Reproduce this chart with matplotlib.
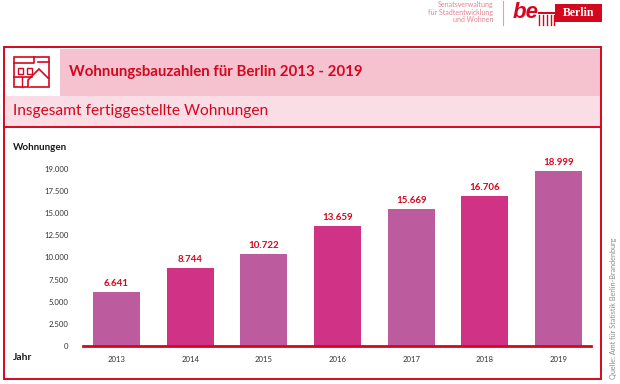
import matplotlib
matplotlib.use('Agg')
import matplotlib.pyplot as plt
from matplotlib.patches import Rectangle, Polygon

# Werte aus dem Bild
jahre = ['2013', '2014', '2015', '2016', '2017', '2018', '2019']
balken = [6100, 8800, 10450, 13600, 15450, 17000, 19750]
beschriftung = ['6.641', '8.744', '10.722', '13.659', '15.669', '16.706', '18.999']
farben = ['#bc5c9e', '#d03386', '#bc5c9e', '#d03386', '#bc5c9e', '#d03386', '#bc5c9e']
ticks = [0, 2500, 5000, 7500, 10000, 12500, 15000, 17500, 20000]
tick_labels = ['0', '2.500', '5.000', '7.500', '10.000', '12.500', '15.000', '17.500', '19.000']

ROT = '#d5071e'
W, H = 620, 384
plt.rcParams['font.family'] = ['Lato', 'DejaVu Sans']

fig = plt.figure(figsize=(W / 100, H / 100), dpi=100)

# Hintergrund-Achse in Pixelkoordinaten
bg = fig.add_axes([0, 0, 1, 1])
bg.set_xlim(0, W)
bg.set_ylim(H, 0)
bg.axis('off')

# Rahmen und Kopfbereich
bg.add_patch(Rectangle((60, 49), 540, 47, fc='#f5c3cf', ec='none'))
bg.add_patch(Rectangle((6, 96), 594, 30, fc='#fadde5', ec='none'))
bg.add_patch(Rectangle((4, 47), 597, 332, fc='none', ec=ROT, lw=1.4))
bg.plot([4, 601], [127, 127], color=ROT, lw=1.4)

bg.text(69, 72, 'Wohnungsbauzahlen für Berlin 2013 - 2019', color=ROT, fontsize=10.8,
        fontweight='bold', va='center', ha='left')
bg.text(13, 111, 'Insgesamt fertiggestellte Wohnungen', color=ROT, fontsize=11.2,
        va='center', ha='left')

# Icon
bg.add_patch(Rectangle((14, 57), 35, 30, fc='none', ec=ROT, lw=1.2))
bg.plot([14, 34, 34], [63, 63, 57], color=ROT, lw=1.2)
bg.plot([38, 49], [62, 62], color=ROT, lw=1.2)
bg.plot([14, 32], [77, 77], color=ROT, lw=1.2)
bg.add_patch(Polygon([[28, 87], [28, 80], [39, 69], [49, 79]], closed=False, fc='white', ec=ROT, lw=1.2))
bg.add_patch(Rectangle((18, 68), 5, 6, fc='none', ec=ROT, lw=1.0))
bg.add_patch(Rectangle((27, 68), 5, 6, fc='none', ec=ROT, lw=1.0))
bg.plot([22, 22], [77, 87], color=ROT, lw=1.0)

# Logo-Bereich oben rechts
bg.text(493.5, 1, 'Senatsverwaltung\nfür Stadtentwicklung\nund Wohnen', color='#e8808f', fontsize=5.0,
        ha='right', va='top', linespacing=1.1)
bg.plot([503, 503], [1, 25], color='#ee9aa6', lw=0.8)
bg.text(512.5, 13, 'be', color=ROT, fontsize=16, fontweight='bold', style='italic',
        family='Liberation Sans', va='center', ha='left')
bg.add_patch(Rectangle((555, 4), 47, 18, fc=ROT, ec='none'))
bg.text(578.5, 13.5, 'Berlin', color='white', fontsize=8.5, fontweight='bold',
        family='Liberation Serif', va='center', ha='center')
bg.add_patch(Rectangle((538, 12), 17, 2, fc=ROT, ec='none'))
for sx in [539, 543, 547, 551, 554]:
    bg.plot([sx, sx], [15, 25], color=ROT, lw=1.0)

# Achsentitel und Quelle
bg.text(13, 147, 'Wohnungen', color='#1a1a1a', fontsize=7.1, fontweight='bold', va='center')
bg.text(13, 358, 'Jahr', color='#1a1a1a', fontsize=7.4, fontweight='bold', va='center')
bg.text(613.5, 379, 'Quelle: Amt für Statistik Berlin-Brandenburg', color='#8c8c8c', fontsize=5.2,
        rotation=90, va='bottom', ha='center')

# Diagramm: x 83-591 px, Null bei y=346, 20000 bei y=169
ax = fig.add_axes([83 / W, 1 - 346 / H, 508 / W, 177 / H])
ax.patch.set_alpha(0)
x = list(range(len(jahre)))
ax.bar(x, balken, width=47 / 73.67, color=farben, zorder=2)
ax.set_xlim(-0.1358 - 0.32, 6.32 + 0.1223)
ax.set_ylim(0, 20000)
for xi, h, t in zip(x, balken, beschriftung):
    ax.annotate(t, (xi, h), xytext=(0, 4), textcoords='offset pixels',
                ha='center', va='bottom', color=ROT, fontsize=7.0, fontweight='bold')

ax.set_xticks(x, jahre)
ax.set_yticks(ticks, tick_labels)
ax.tick_params(axis='both', length=0, labelsize=5.6, labelcolor='#333333')
ax.tick_params(axis='x', pad=7)
ax.tick_params(axis='y', pad=10.5)
for s in ['top', 'right', 'left']:
    ax.spines[s].set_visible(False)
ax.spines['bottom'].set_color(ROT)
ax.spines['bottom'].set_linewidth(2.0)
ax.spines['bottom'].set_zorder(3)

fig.savefig('out.png', dpi=100)
